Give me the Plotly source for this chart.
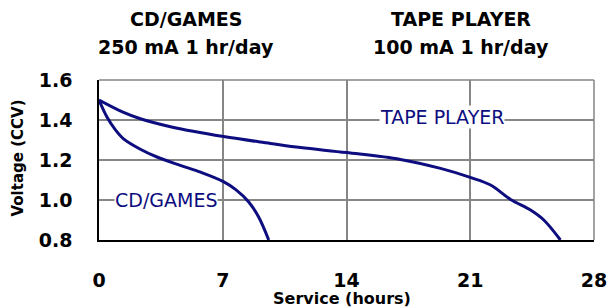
import plotly.graph_objects as go

cd_hours = [0, 0.45, 0.92, 1.39, 2.34, 3.28, 4.6, 5.74, 7.01, 7.72, 8.47, 9.03, 9.6]
cd_volts = [1.5, 1.415, 1.352, 1.306, 1.254, 1.215, 1.173, 1.139, 1.093, 1.053, 0.99, 0.915, 0.8]
tape_hours = [0, 1.39, 2.34, 4.1, 7.05, 9.7, 11.4, 14.0, 17.05, 19.32, 21.0, 22.15, 23.28, 24.41, 25.16, 26.1]
tape_volts = [1.5, 1.438, 1.406, 1.365, 1.317, 1.283, 1.262, 1.237, 1.203, 1.158, 1.113, 1.075, 1.003, 0.95, 0.9, 0.8]
x_ticks = [0, 7, 14, 21, 28]
y_ticks = [0.8, 1.0, 1.2, 1.4, 1.6]

NAVY = "#0d0d80"
GRID = "#868686"
FONT = "Verdana, DejaVu Sans, sans-serif"

L, R, T, B = 99, 13, 80, 68
W, H = 607, 308
PW, PH = W - L - R, H - T - B


def px(x):
    return (x - L) / PW


def py(y):
    return (H - B - y) / PH


fig = go.Figure()
for hx, vy in [(cd_hours, cd_volts), (tape_hours, tape_volts)]:
    fig.add_trace(go.Scatter(x=hx, y=vy, mode="lines",
                             line=dict(color=NAVY, width=3, shape="spline", smoothing=1.0),
                             hoverinfo="skip"))

# top and right gray borders
fig.add_shape(type="line", xref="paper", yref="paper", x0=0, x1=1, y0=1, y1=1,
              line=dict(color=GRID, width=1.5), layer="below")
fig.add_shape(type="line", xref="paper", yref="paper", x0=1, x1=1, y0=0, y1=1,
              line=dict(color=GRID, width=1.5), layer="below")

fig.add_annotation(x=3.8, y=1.0, text="CD/GAMES", showarrow=False,
                   font=dict(family=FONT, size=19, color=NAVY), bgcolor="white",
                   borderpad=0)
fig.add_annotation(x=19.4, y=1.415, text="TAPE PLAYER", showarrow=False,
                   font=dict(family=FONT, size=19, color=NAVY), bgcolor="white",
                   borderpad=0)

# headers
for cx, line1, line2 in [(186, "CD/GAMES", "250 mA 1 hr/day"),
                         (461, "TAPE PLAYER", "100 mA 1 hr/day")]:
    fig.add_annotation(xref="paper", yref="paper", x=px(cx), y=py(19),
                       xanchor="center", yanchor="middle",
                       text="<b>" + line1 + "</b>", showarrow=False,
                       font=dict(family=FONT, size=19, color="black"))
    fig.add_annotation(xref="paper", yref="paper", x=px(cx), y=py(47),
                       xanchor="center", yanchor="middle",
                       text="<b>" + line2 + "</b>", showarrow=False,
                       font=dict(family=FONT, size=19, color="black"))

# axis titles
fig.add_annotation(xref="paper", yref="paper", x=px(342), y=py(298),
                   xanchor="center", yanchor="middle",
                   text="<b>Service (hours)</b>", showarrow=False,
                   font=dict(family=FONT, size=16, color="black"))
fig.add_annotation(xref="paper", yref="paper", x=px(17.5), y=py(158),
                   xanchor="center", yanchor="middle", textangle=-90,
                   text="<b>Voltage (CCV)</b>", showarrow=False,
                   font=dict(family=FONT, size=15, color="black"))

fig.update_layout(
    width=W, height=H,
    margin=dict(l=L, r=R, t=T, b=B, autoexpand=False),
    paper_bgcolor="white", plot_bgcolor="white",
    showlegend=False,
    font=dict(family=FONT, color="black"),
    xaxis=dict(range=[0, 28], tickvals=x_ticks, ticktext=[f"<b>{v}</b>" for v in x_ticks],
               showgrid=True, gridcolor=GRID, gridwidth=1.5,
               showline=True, linecolor="black", linewidth=1.5,
               ticks="", ticklabelstandoff=22, tickfont=dict(size=19, family=FONT),
               ticklabeloverflow="allow",
               automargin=False, zeroline=False, fixedrange=True),
    yaxis=dict(range=[0.8, 1.6], tickvals=y_ticks,
               ticktext=[f"<b>{v:.1f}</b>" for v in y_ticks],
               showgrid=True, gridcolor=GRID, gridwidth=1.5,
               showline=True, linecolor="black", linewidth=1.5,
               ticks="", ticklabelstandoff=21, tickfont=dict(size=19, family=FONT),
               ticklabeloverflow="allow",
               automargin=False, zeroline=False, fixedrange=True),
)

fig.write_html("out.html", config={"displayModeBar": False},
               post_script="document.body.style.margin='0';document.body.style.overflow='hidden';")
